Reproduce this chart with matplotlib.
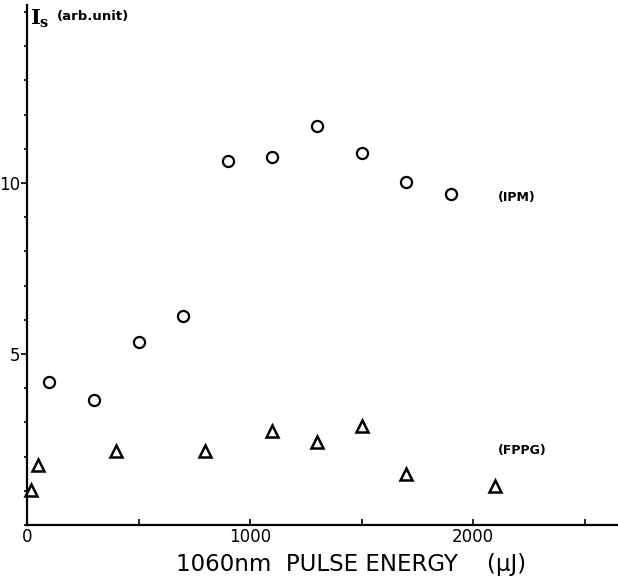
import matplotlib
matplotlib.use('Agg')
import matplotlib.pyplot as plt
from matplotlib.ticker import MultipleLocator

# IPM (circles)
energy_ipm = [100, 300, 500, 700, 900, 1100, 1300, 1500, 1700, 1900]
signal_ipm = [4.18, 3.65, 5.35, 6.11, 10.64, 10.76, 11.67, 10.88, 10.03, 9.68]

# FPPG (triangles)
energy_fppg = [20, 50, 400, 800, 1100, 1300, 1500, 1700, 2100]
signal_fppg = [1.02, 1.75, 2.16, 2.16, 2.75, 2.43, 2.89, 1.49, 1.14]

fig = plt.figure(figsize=(6.18, 5.76), dpi=100)
ax = fig.add_axes([0.0437, 0.0885, 0.9563, 0.9025])

ax.plot(energy_ipm, signal_ipm, 'o', ms=8, mfc='white', mec='black', mew=1.6,
        clip_on=False)
ax.plot(energy_fppg, signal_fppg, '^', ms=8.5, mfc='white', mec='black', mew=1.8,
        clip_on=False)

ax.set_xlim(0, 2650)
ax.set_ylim(0, 15.2)

for s in ['top', 'right']:
    ax.spines[s].set_visible(False)
for s in ['left', 'bottom']:
    ax.spines[s].set_linewidth(1.6)

ax.xaxis.set_major_locator(MultipleLocator(1000))
ax.xaxis.set_minor_locator(MultipleLocator(500))
ax.yaxis.set_major_locator(MultipleLocator(5))
ax.yaxis.set_minor_locator(MultipleLocator(1))
ax.tick_params(axis='x', which='both', direction='in', length=4, width=1.2,
               labelsize=12, pad=2)
ax.tick_params(axis='y', which='major', direction='out', length=4, width=1.2,
               labelsize=12, pad=1)
ax.tick_params(axis='y', which='minor', direction='out', length=2.5, width=1.2)
ax.set_yticks([5, 10])
ax.set_yticklabels(['5', '10'])

# x-axis title (sits a little right of centre in the original)
fig.text(351 / 618, 1 - 565 / 576, '1060nm  PULSE ENERGY    (\u03bcJ)',
         fontsize=16.5, ha='center', va='center')

# y-axis title at the top of the spine
ax.text(0.005, 0.995, '$\\mathbf{I}_\\mathbf{s}$', transform=ax.transAxes,
        fontsize=15, math_fontfamily='dejavuserif', ha='left', va='top')
ax.text(0.05, 0.99, '(arb.unit)', transform=ax.transAxes, fontsize=9.5,
        fontweight='semibold', ha='left', va='top')
ax.text(2110, 9.59, '(IPM)', fontsize=9, fontweight='bold', ha='left', va='center')
ax.text(2110, 2.19, '(FPPG)', fontsize=9, fontweight='bold', ha='left', va='center')

fig.savefig('out.png', dpi=100)
